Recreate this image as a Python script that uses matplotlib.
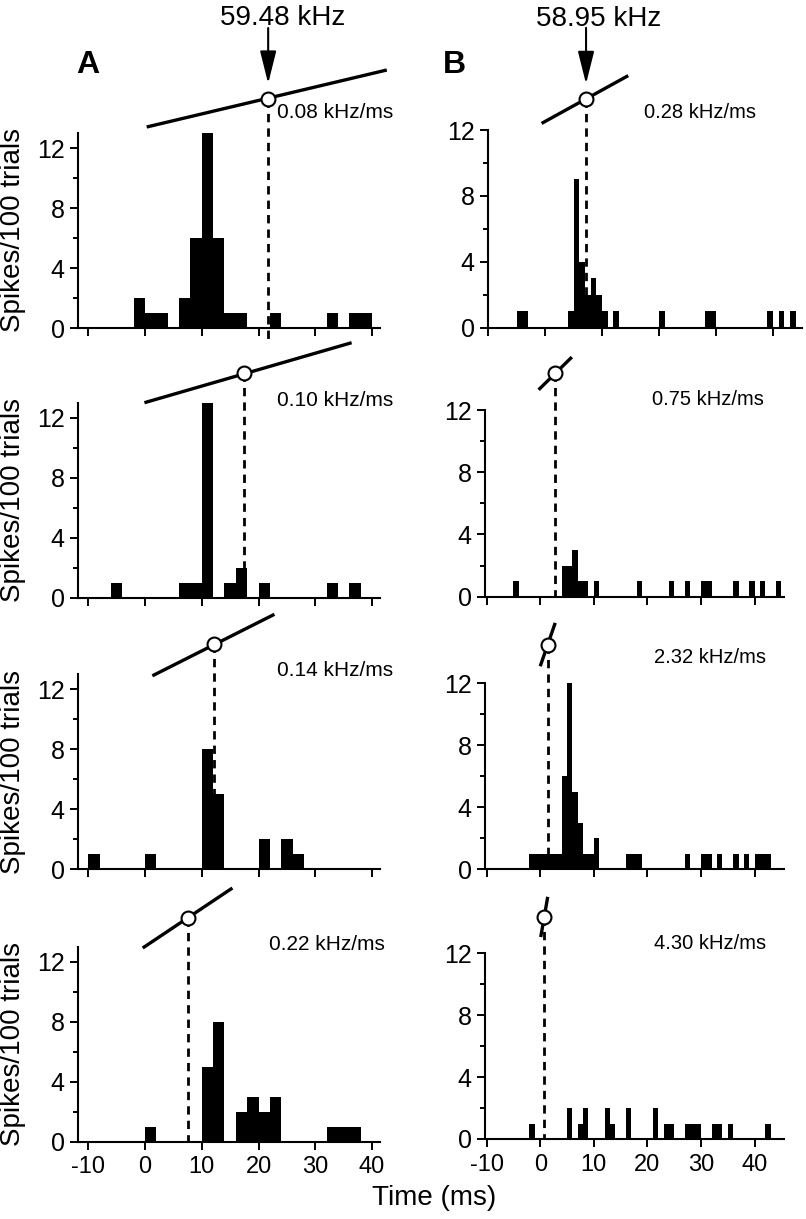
import matplotlib.pyplot as plt

plt.rcParams['font.family'] = ['Liberation Sans', 'DejaVu Sans']
plt.rcParams['axes.unicode_minus'] = False

# ---- data ----
# column A: 2 ms bins (left edge, spikes/100 trials)
a_bin_width = 2
a1_left = [-2, 0, 2, 6, 8, 10, 12, 14, 16, 22, 32, 36, 38]
a1_count = [2, 1, 1, 2, 6, 13, 6, 1, 1, 1, 1, 1, 1]
a2_left = [-6, 6, 8, 10, 14, 16, 20, 32, 36]
a2_count = [1, 1, 1, 13, 1, 2, 1, 1, 1]
a3_left = [-10, 0, 10, 12, 20, 24, 26]
a3_count = [1, 1, 8, 5, 2, 2, 1]
a4_left = [0, 10, 12, 16, 18, 20, 22, 32, 34, 36]
a4_count = [1, 5, 8, 2, 3, 2, 3, 1, 1, 1]

# column B: 1 ms bins
b_bin_width = 1
b1_left = [-5, -4, 4, 5, 6, 7, 8, 9, 10, 12, 20, 28, 29, 39, 41, 43]
b1_count = [1, 1, 1, 9, 4, 2, 3, 2, 1, 1, 1, 1, 1, 1, 1, 1]
b2_left = [-5, 4, 5, 6, 7, 8, 10, 18, 24, 27, 30, 31, 36, 39, 41, 44]
b2_count = [1, 2, 2, 3, 1, 1, 1, 1, 1, 1, 1, 1, 1, 1, 1, 1]
b3_left = [-2, -1, 0, 1, 2, 3, 4, 5, 6, 7, 8, 9, 10, 16, 17, 18,
           27, 30, 31, 33, 36, 38, 40, 41, 42]
b3_count = [1, 1, 1, 1, 1, 1, 6, 12, 5, 3, 1, 1, 2, 1, 1, 1,
            1, 1, 1, 1, 1, 1, 1, 1, 1]
b4_left = [-2, 5, 7, 8, 12, 13, 16, 21, 23, 24, 27, 28, 29, 32, 33, 35, 42]
b4_count = [1, 2, 1, 2, 2, 1, 2, 2, 1, 1, 1, 1, 1, 1, 1, 1, 1]

a_rates = ['0.08 kHz/ms', '0.10 kHz/ms', '0.14 kHz/ms', '0.22 kHz/ms']
b_rates = ['0.28 kHz/ms', '0.75 kHz/ms', '2.32 kHz/ms', '4.30 kHz/ms']
a_best_freq = '59.48 kHz'
b_best_freq = '58.95 kHz'

# time (ms) at which the sweep passes the best frequency (open circle)
a_best_time = [21.7, 17.4, 12.1, 7.5]
b_best_time = [7.2, 2.7, 1.4, 0.7]
# sweep icon drawn above each histogram: (time, height) of start / circle / end
a_sweep_start = [(0.3, 13.4), (-0.1, 13.0), (1.3, 12.9), (-0.4, 12.9)]
a_sweep_mid = [15.3, 15.0, 15.0, 14.9]
a_sweep_end = [(42.6, 17.2), (36.4, 17.0), (22.8, 17.0), (15.4, 16.9)]
b_sweep_start = [(-0.6, 12.4), (-0.3, 13.3), (0.0, 13.1), (0.1, 13.05)]
b_sweep_mid = [13.9, 14.4, 14.5, 14.35]
b_sweep_end = [(14.6, 15.3), (5.9, 15.4), (2.8, 15.9), (1.4, 15.65)]

# ---- layout (pixels) ----
W, H = 806, 1219
fig = plt.figure(figsize=(W / 100, H / 100), dpi=100)


def add_axes(left, right, bottom, top):
    return fig.add_axes([left / W, 1 - bottom / H, (right - left) / W, (bottom - top) / H])


a_bottoms = [328, 597.7, 869.3, 1141.5]
b_bottoms = [327.7, 596.7, 869.3, 1139]
b_tops = [130, 410, 683.3, 953.3]

a_lefts = [a1_left, a2_left, a3_left, a4_left]
a_counts = [a1_count, a2_count, a3_count, a4_count]
b_lefts = [b1_left, b2_left, b3_left, b4_left]
b_counts = [b1_count, b2_count, b3_count, b4_count]

a_label_pos = [(23.3, 14.0), (23.3, 12.8), (23.3, 12.9), (21.9, 12.8)]
b_label_pos = [(17.4, 12.7), (20.9, 12.3), (21.2, 13.3), (21.3, 12.3)]


def style_axes(ax, ytop, show_xlabels):
    ax.set_ylim(0, ytop)
    for s in ['top', 'right']:
        ax.spines[s].set_visible(False)
    for s in ['left', 'bottom']:
        ax.spines[s].set_linewidth(1.5)
    ax.set_xticks([-10, 0, 10, 20, 30, 40])
    ax.set_yticks([0, 4, 8, 12])
    ax.set_yticks([2, 6, 10], minor=True)
    ax.tick_params(axis='both', which='major', direction='out', length=5.5, width=1.4)
    ax.tick_params(axis='y', which='minor', direction='out', length=3.5, width=1.4)
    ax.tick_params(axis='x', which='minor', length=0)
    ax.tick_params(axis='y', labelsize=18, pad=4)
    ax.tick_params(axis='x', labelsize=17, pad=5, labelbottom=show_xlabels)


def draw_sweep(ax, t_best, start, mid, end, dash_bottom):
    ax.plot([start[0], end[0]], [start[1], end[1]], color='black', lw=2.4,
            clip_on=False, solid_capstyle='butt', zorder=4)
    ax.plot([t_best, t_best], [mid, dash_bottom], color='black', lw=2.0,
            linestyle=(0, (3, 2.2)), clip_on=False, zorder=3)
    ax.plot([t_best], [mid], marker='o', ms=10, mfc='white', mec='black',
            mew=1.5, clip_on=False, zorder=5)


for i in range(4):
    # column A
    ax = add_axes(78, 380, a_bottoms[i], a_bottoms[i] - 195)
    ax.bar(a_lefts[i], a_counts[i], width=a_bin_width, align='edge',
           color='black', linewidth=0)
    ax.set_xlim(-11.8, 41.4)
    style_axes(ax, 13, i == 3)
    draw_sweep(ax, a_best_time[i], a_sweep_start[i], a_sweep_mid[i],
               a_sweep_end[i], -0.8 if i == 0 else 0)
    ax.text(a_label_pos[i][0], a_label_pos[i][1], a_rates[i], fontsize=15,
            ha='left', va='baseline', clip_on=False)
    ax.set_ylabel('Spikes/100 trials', fontsize=20)
    ax.yaxis.set_label_coords(-0.172, 0.5)
    if i == 0:
        ax.annotate('', xy=(a_best_time[i], 16.3), xytext=(a_best_time[i], 20.0),
                    arrowprops=dict(arrowstyle='-|>,head_length=2.0,head_width=0.5',
                                    mutation_scale=10, color='black', lw=1.5,
                                    shrinkA=0, shrinkB=0),
                    annotation_clip=False)
        ax.text(13.3, 20.2, a_best_freq, fontsize=20, ha='left', va='baseline',
                clip_on=False)

    # column B
    if i == 0:
        ax = add_axes(488, 801.5, b_bottoms[i], b_tops[i])
        ax.set_xlim(-10, 45)
    else:
        ax = add_axes(485, 783.6, b_bottoms[i], b_tops[i])
        ax.set_xlim(-10.3, 45.4)
    ax.bar(b_lefts[i], b_counts[i], width=b_bin_width, align='edge',
           color='black', linewidth=0)
    style_axes(ax, 12, i == 3)
    draw_sweep(ax, b_best_time[i], b_sweep_start[i], b_sweep_mid[i],
               b_sweep_end[i], 0)
    ax.text(b_label_pos[i][0], b_label_pos[i][1], b_rates[i], fontsize=14.5,
            ha='left', va='baseline', clip_on=False)
    if i == 0:
        ax.annotate('', xy=(b_best_time[i], 14.8), xytext=(b_best_time[i], 18.2),
                    arrowprops=dict(arrowstyle='-|>,head_length=2.0,head_width=0.5',
                                    mutation_scale=10, color='black', lw=1.5,
                                    shrinkA=0, shrinkB=0),
                    annotation_clip=False)
        ax.text(-1.6, 18.3, b_best_freq, fontsize=20, ha='left', va='baseline',
                clip_on=False)

fig.text(76 / W, 1 - 73.3 / H, 'A', fontsize=23, fontweight='bold', va='baseline')
fig.text(443 / W, 1 - 73.3 / H, 'B', fontsize=23, fontweight='bold', va='baseline')
fig.text(434 / W, 1 - 1205 / H, 'Time (ms)', fontsize=20, ha='center', va='baseline')

fig.savefig('out.png', dpi=100)
